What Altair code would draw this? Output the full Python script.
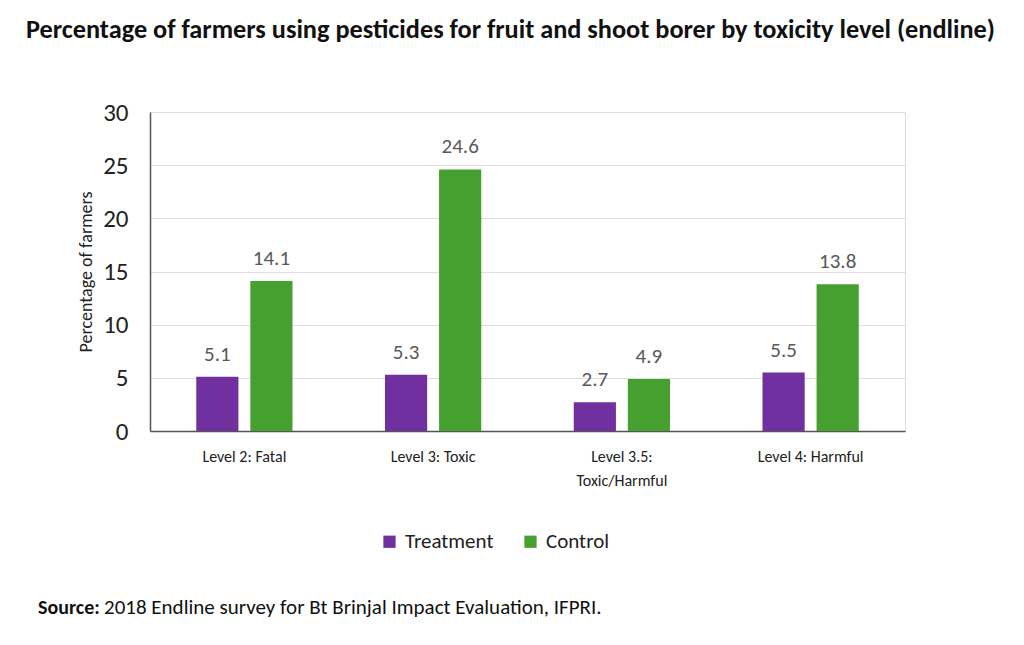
import altair as alt
import pandas as pd

categories = ["Level 2: Fatal", "Level 3: Toxic", "Level 3.5: Toxic/Harmful", "Level 4: Harmful"]
groups = ["Treatment", "Control"]
treatment = [5.1, 5.3, 2.7, 5.5]
control = [14.1, 24.6, 4.9, 13.8]
y_ticks = [0, 5, 10, 15, 20, 25, 30]
colors = ["#7030A0", "#46A030"]

rows = []
for c, t, k in zip(categories, treatment, control):
    rows.append({"level": c, "group": "Treatment", "value": t})
    rows.append({"level": c, "group": "Control", "value": k})
df = pd.DataFrame(rows)

FONT = "Carlito, Calibri, Lato, sans-serif"

x = alt.X("level:N", sort=categories, title=None,
          scale=alt.Scale(paddingInner=0.49, paddingOuter=0.245),
          axis=alt.Axis(labelAngle=0, labelFontSize=16, labelColor="#222222",
                        labelFont=FONT, labelPadding=17, labelLineHeight=24,
                        labelExpr="datum.label == 'Level 3.5: Toxic/Harmful' ? ['Level 3.5:', 'Toxic/Harmful'] : datum.label",
                        ticks=False, domainColor="#555555", domainWidth=1.5))
xo = alt.XOffset("group:N", sort=groups, scale=alt.Scale(paddingInner=0.22))

bars = alt.Chart(df).mark_bar().encode(
    x=x, xOffset=xo,
    y=alt.Y("value:Q", title="Percentage of farmers",
            scale=alt.Scale(domain=[0, 30], nice=False),
            axis=alt.Axis(values=y_ticks, labelFontSize=25, labelColor="#222222",
                          labelFont=FONT, labelPadding=22, ticks=False,
                          titleFont=FONT, titleFontSize=18, titleFontWeight="normal",
                          titleColor="#222222", titlePadding=7,
                          domainColor="#555555", domainWidth=1.5,
                          gridColor="#dddddd", gridWidth=1.2)),
    color=alt.Color("group:N", sort=groups,
                    scale=alt.Scale(domain=groups, range=colors),
                    legend=alt.Legend(title=None, orient="none", direction="horizontal",
                                      legendX=229, legendY=419, symbolType="square",
                                      symbolSize=150, symbolStrokeWidth=0,
                                      labelFontSize=21, labelFont=FONT, labelColor="#222222",
                                      columnPadding=26, labelOffset=5)),
)

labels = alt.Chart(df).mark_text(baseline="alphabetic", dy=-16, fontSize=21, font=FONT,
                                 color="#595959").encode(
    x=x, xOffset=xo, y="value:Q", text=alt.Text("value:Q", format=".1f"))

src = pd.DataFrame({"a": [1]})
src_bold = alt.Chart(src).mark_text(align="left", baseline="middle", fontSize=20,
                                    fontWeight="bold", font=FONT, color="#111111").encode(
    x=alt.value(-112), y=alt.value(496), text=alt.value("Source:"))
src_text = alt.Chart(src).mark_text(align="left", baseline="middle", fontSize=21,
                                    font=FONT, color="#111111").encode(
    x=alt.value(-46), y=alt.value(496),
    text=alt.value("2018 Endline survey for Bt Brinjal Impact Evaluation, IFPRI."))

chart = alt.layer(bars, labels, src_bold, src_text).properties(
    width=755, height=319,
    title=alt.Title("Percentage of farmers using pesticides for fruit and shoot borer by toxicity level (endline)",
                    font=FONT, fontSize=26.3, fontWeight="bold", color="#111111",
                    anchor="middle", dx=-17, offset=57),
    autosize=alt.AutoSizeParams(type="none"),
    padding={"left": 142, "top": 104, "right": 111, "bottom": 206},
).configure_view(stroke=None).configure(background="white")

chart.save("out.html", embed_options={"renderer": "svg", "actions": False})
